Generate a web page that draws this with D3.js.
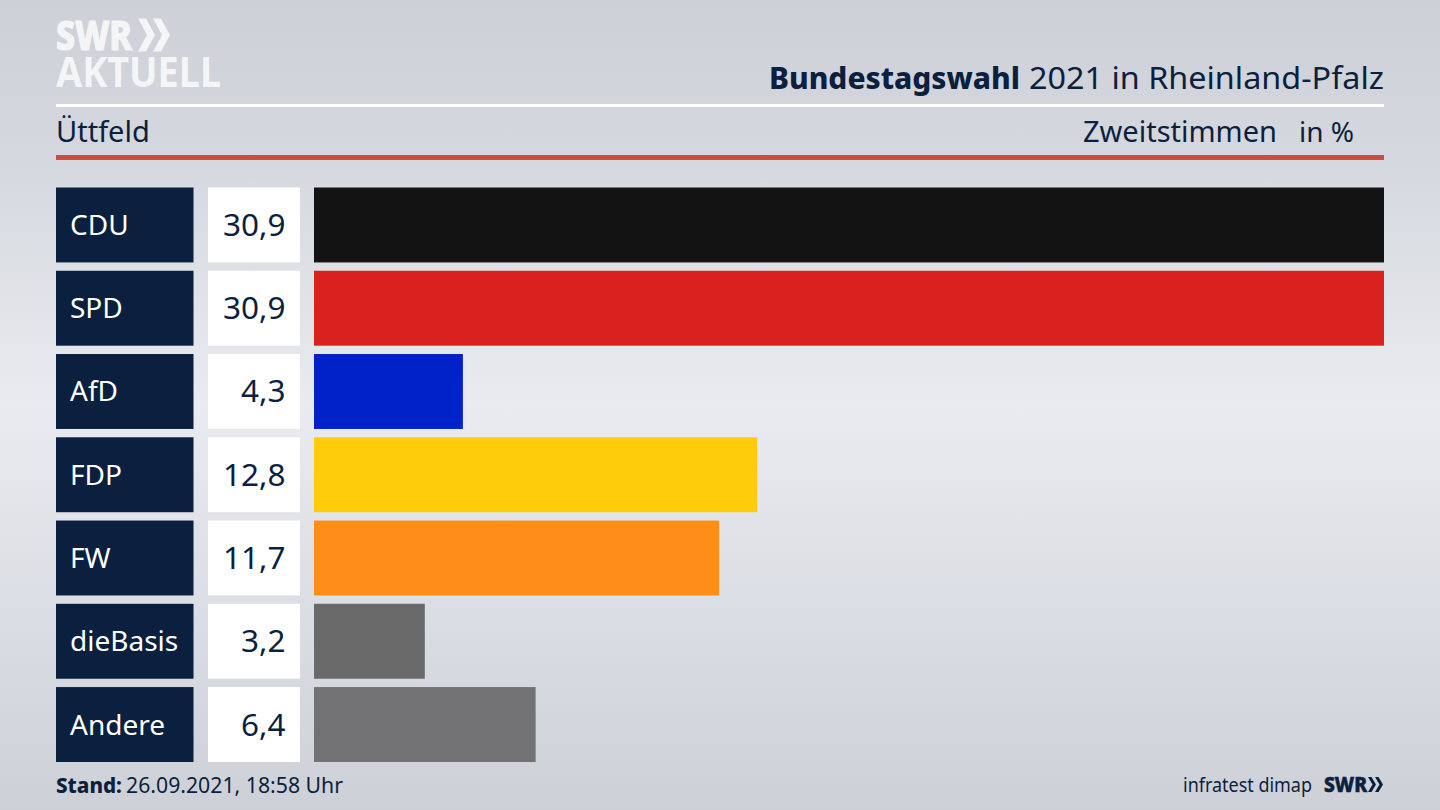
<!DOCTYPE html>
<html><head><meta charset="utf-8">
<script src="https://cdn.jsdelivr.net/npm/d3@7"></script>
<style>html,body{margin:0;padding:0;overflow:hidden;background:#d5d8de}svg{display:block}text{font-family:"Noto Sans",sans-serif}</style>
</head><body><svg id="c" width="1440" height="810"></svg>
<script>
const parties = ["CDU","SPD","AfD","FDP","FW","dieBasis","Andere"];
const shares = [30.9,30.9,4.3,12.8,11.7,3.2,6.4];
const shareLabels = ["30,9","30,9","4,3","12,8","11,7","3,2","6,4"];
const barColors = ["#131313","#d9211f","#0022c8","#fecc0a","#fe8e17","#696969","#727274"];
const navy = "#0b1f3f";
const svg = d3.select("#c");
const defs = svg.append("defs");
const g = defs.append("linearGradient").attr("id","bg").attr("x1",0).attr("y1",0).attr("x2",0).attr("y2",1);
[[0,"#cdd0d7"],[0.2,"#d5d8de"],[0.5,"#e9ebf0"],[0.8,"#d8dbe1"],[1,"#cdd0d7"]].forEach(d=>g.append("stop").attr("offset",d[0]).attr("stop-color",d[1]));
svg.append("rect").attr("width",1440).attr("height",810).attr("fill","url(#bg)");

const x = d3.scaleLinear().domain([0,30.9]).range([314,1384]);
const y = d3.scaleBand().domain(parties).range([187.5,762]).paddingInner(0.1);
const rows = svg.append("g").selectAll("g").data(parties).join("g");
rows.append("rect").attr("x",56).attr("y",d=>y(d)).attr("width",137.5).attr("height",y.bandwidth()).attr("fill",navy);
rows.append("rect").attr("x",208).attr("y",d=>y(d)).attr("width",92).attr("height",y.bandwidth()).attr("fill","#fff");
rows.append("rect").attr("x",x(0)).attr("y",d=>y(d)).attr("height",y.bandwidth())
  .attr("width",(d,i)=>x(shares[i])-x(0)).attr("fill",(d,i)=>barColors[i]);
rows.append("text").attr("x",70).attr("y",d=>y(d)+y.bandwidth()/2+10).attr("font-size",28).attr("fill","#fff").text(d=>d);
rows.append("text").attr("x",285.5).attr("y",d=>y(d)+y.bandwidth()/2+11).attr("font-size",31.5).attr("text-anchor","end").attr("fill",navy).text((d,i)=>shareLabels[i]);

// header
svg.append("rect").attr("x",56).attr("y",104).attr("width",1328).attr("height",3).attr("fill","#fff");
svg.append("rect").attr("x",56).attr("y",155).attr("width",1328).attr("height",5).attr("fill","#c94f3d");
svg.append("text").attr("x",769).attr("y",89).attr("font-size",31).attr("font-weight",800).attr("fill",navy).attr("textLength",251).attr("lengthAdjust","spacingAndGlyphs").text("Bundestagswahl");
svg.append("text").attr("x",1029).attr("y",89).attr("font-size",31).attr("fill",navy).attr("textLength",355).attr("lengthAdjust","spacingAndGlyphs").text("2021 in Rheinland-Pfalz");
svg.append("text").attr("x",56).attr("y",142).attr("font-size",29).attr("fill",navy).text("Üttfeld");
svg.append("text").attr("x",1277).attr("y",142).attr("text-anchor","end").attr("font-size",29).attr("fill",navy).text("Zweitstimmen");
svg.append("text").attr("x",1354).attr("y",142).attr("text-anchor","end").attr("font-size",28).attr("fill",navy).text("in %");

// logo
function chev(x0,y0,h,w,t,fill){
  const p=d3.path();p.moveTo(x0,y0);p.lineTo(x0+t,y0);p.lineTo(x0+t+w,y0+h/2);p.lineTo(x0+t,y0+h);p.lineTo(x0,y0+h);p.lineTo(x0+w,y0+h/2);p.closePath();
  svg.append("path").attr("d",p.toString()).attr("fill",fill);
}
const logo = "#f4f5f7";
svg.append("text").attr("x",56).attr("y",50).attr("font-size",41).attr("font-weight",800).attr("fill",logo).attr("stroke",logo).attr("stroke-width",1.2).attr("textLength",76).attr("lengthAdjust","spacingAndGlyphs").text("SWR");
chev(138,18.5,33,9,8,logo);chev(153,18.5,33,9,8,logo);
svg.append("text").attr("x",56).attr("y",87).attr("font-size",41).attr("font-weight",700).attr("fill",logo).attr("textLength",165).attr("lengthAdjust","spacingAndGlyphs").text("AKTUELL");

// footer
svg.append("text").attr("x",56).attr("y",793).attr("font-size",21.5).attr("font-weight",800).attr("fill",navy).attr("textLength",66).attr("lengthAdjust","spacingAndGlyphs").text("Stand:");
svg.append("text").attr("x",126).attr("y",793).attr("font-size",21.5).attr("fill",navy).attr("textLength",217).attr("lengthAdjust","spacingAndGlyphs").text("26.09.2021, 18:58 Uhr");
svg.append("text").attr("x",1183).attr("y",792).attr("font-size",20).attr("fill",navy).attr("textLength",129).attr("lengthAdjust","spacingAndGlyphs").text("infratest dimap");
svg.append("text").attr("x",1324).attr("y",792).attr("font-size",21).attr("font-weight",800).attr("fill",navy).attr("stroke",navy).attr("stroke-width",0.6).attr("textLength",43).attr("lengthAdjust","spacingAndGlyphs").text("SWR");
chev(1368,777,15,4.5,3.5,navy);chev(1375,777,15,4.5,3.5,navy);
</script></body></html>
